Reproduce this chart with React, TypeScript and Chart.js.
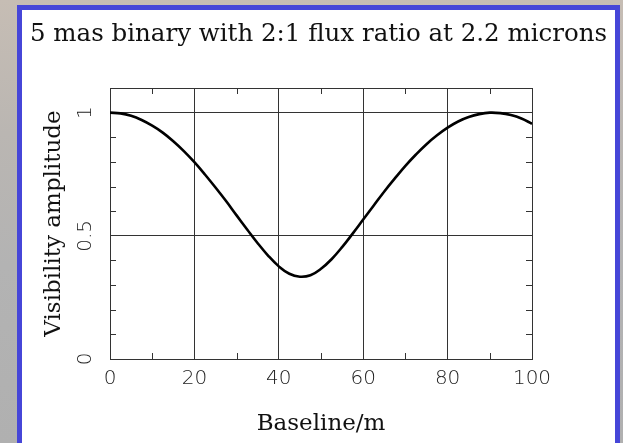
import React, { useEffect, useRef } from "react";
import { Chart, registerables } from "chart.js";

Chart.register(...registerables);

const chartTitle = "5 mas binary with 2:1 flux ratio at 2.2 microns";
const xAxisTitle = "Baseline/m";
const yAxisTitle = "Visibility amplitude";

const baseline = [
  0, 2.5, 5, 7.5, 10, 12.5, 15, 17.5, 20, 22.5, 25, 27.5, 30, 32.5, 35, 37.5, 40,
  42.5, 45, 47.5, 50, 52.5, 55, 57.5, 60, 62.5, 65, 67.5, 70, 72.5, 75, 77.5, 80,
  82.5, 85, 87.5, 90, 92.5, 95, 97.5, 100,
];
const visibility = [
  1.0, 0.997, 0.987, 0.970, 0.947, 0.919, 0.884, 0.844, 0.799, 0.749, 0.696,
  0.641, 0.583, 0.526, 0.470, 0.419, 0.376, 0.346, 0.334, 0.340, 0.366, 0.405,
  0.454, 0.509, 0.566, 0.623, 0.680, 0.733, 0.784, 0.830, 0.872, 0.908, 0.939,
  0.964, 0.982, 0.994, 1.0, 0.998, 0.990, 0.976, 0.955,
];

const xTickValues = [0, 20, 40, 60, 80, 100];
const xTickLabels = ["0", "20", "40", "60", "80", "100"];
const xGridValues = [20, 40, 60, 80];
const xMinorTicks = [10, 30, 50, 70, 90];

const yTickValues = [0, 0.5, 1];
const yTickLabels = ["0", "0.5", "1"];
const yGridValues = [0.5, 1];
const yMinorTicks = [0.1, 0.2, 0.3, 0.4, 0.6, 0.7, 0.8, 0.9];

const near = (a: number, b: number) => Math.abs(a - b) < 1e-6;
const FRAME = "#333";

const minorTicksPlugin = {
  id: "minorTicks",
  afterDatasetsDraw(chart: any) {
    const { ctx, chartArea } = chart;
    const { left, right, top, bottom } = chartArea;
    const xs = chart.scales.x;
    const ys = chart.scales.y;
    const len = 6;
    ctx.save();
    ctx.strokeStyle = FRAME;
    ctx.lineWidth = 1;
    ctx.beginPath();
    xMinorTicks.forEach((v) => {
      const px = Math.round(xs.getPixelForValue(v)) + 0.5;
      ctx.moveTo(px, bottom);
      ctx.lineTo(px, bottom - len);
      ctx.moveTo(px, top);
      ctx.lineTo(px, top + len);
    });
    yMinorTicks.forEach((v) => {
      const py = Math.round(ys.getPixelForValue(v)) + 0.5;
      ctx.moveTo(left, py);
      ctx.lineTo(left + len, py);
      ctx.moveTo(right, py);
      ctx.lineTo(right - len, py);
    });
    ctx.stroke();
    ctx.restore();
  },
};

export default function App() {
  const canvasRef = useRef<HTMLCanvasElement | null>(null);

  useEffect(() => {
    const canvas = canvasRef.current;
    if (!canvas) return;
    const tickFont = { family: "'DejaVu Sans', sans-serif", size: 20, weight: 300 as any };
    const serif = "'DejaVu Serif', serif";
    const chart = new Chart(canvas, {
      type: "line",
      data: {
        datasets: [
          {
            data: baseline.map((b, i) => ({ x: b, y: visibility[i] })),
            borderColor: "#000",
            borderWidth: 2.6,
            pointRadius: 0,
            tension: 0.4,
            fill: false,
            xAxisID: "x",
            yAxisID: "y",
          },
        ],
      },
      options: {
        responsive: false,
        animation: false,
        devicePixelRatio: 1,
        layout: { padding: { left: 14, right: 0, top: 0, bottom: 0 } },
        plugins: {
          legend: { display: false },
          tooltip: { enabled: false },
          title: {
            display: true,
            text: chartTitle,
            color: "#111",
            font: { family: serif, size: 24.5, weight: "normal" },
            padding: { top: 20, bottom: 38.6 },
          },
        },
        scales: {
          x: {
            type: "linear",
            position: "bottom",
            min: 0,
            max: 100,
            afterFit: (s: any) => {
              s.height = 84;
            },
            afterBuildTicks: (s: any) => {
              s.ticks = xTickValues.concat(xGridValues).filter((v, i, a) => a.indexOf(v) === i).map((v) => ({ value: v }));
            },
            ticks: {
              autoSkip: false,
              maxRotation: 0,
              padding: 8,
              color: "#222",
              font: tickFont,
              callback: (v: any) => {
                const i = xTickValues.findIndex((t) => near(t, Number(v)));
                return i >= 0 ? xTickLabels[i] : "";
              },
            },
            grid: {
              drawTicks: false,
              lineWidth: 1,
              color: (c: any) =>
                c.tick && xGridValues.some((g) => near(g, c.tick.value)) ? FRAME : "rgba(0,0,0,0)",
            },
            border: { display: true, color: FRAME, width: 1 },
            title: {
              display: true,
              text: xAxisTitle,
              color: "#111",
              font: { family: serif, size: 23, weight: "normal" },
              padding: { top: 0, bottom: 5 },
            },
          },
          x2: {
            type: "linear",
            position: "top",
            min: 0,
            max: 100,
            afterFit: (s: any) => {
              s.height = 0;
            },
            ticks: { display: false },
            grid: { display: false, drawTicks: false },
            border: { display: true, color: FRAME, width: 1 },
          },
          y: {
            type: "linear",
            position: "left",
            min: 0,
            max: 1.1,
            afterFit: (s: any) => {
              s.width = 96;
            },
            afterBuildTicks: (s: any) => {
              s.ticks = yTickValues.concat(yGridValues).filter((v, i, a) => a.indexOf(v) === i).map((v) => ({ value: v }));
            },
            ticks: {
              autoSkip: false,
              minRotation: 90,
              maxRotation: 90,
              crossAlign: "center",
              padding: 8,
              color: "#222",
              font: tickFont,
              callback: (v: any) => {
                const i = yTickValues.findIndex((t) => near(t, Number(v)));
                return i >= 0 ? yTickLabels[i] : "";
              },
            },
            grid: {
              drawTicks: false,
              lineWidth: 1,
              color: (c: any) =>
                c.tick && yGridValues.some((g) => near(g, c.tick.value)) ? FRAME : "rgba(0,0,0,0)",
            },
            border: { display: true, color: FRAME, width: 1 },
            title: {
              display: true,
              text: yAxisTitle,
              color: "#111",
              font: { family: serif, size: 23, weight: "normal" },
              padding: { top: 26, bottom: 0 },
            },
          },
          y2: {
            type: "linear",
            position: "right",
            min: 0,
            max: 1.1,
            afterFit: (s: any) => {
              s.width = 91;
            },
            ticks: { display: false },
            grid: { display: false, drawTicks: false },
            border: { display: true, color: FRAME, width: 1 },
          },
        },
      },
      plugins: [minorTicksPlugin],
    } as any);
    return () => chart.destroy();
  }, []);

  return (
    <div
      style={{
        position: "fixed",
        left: 0,
        top: 0,
        width: 623,
        height: 443,
        overflow: "hidden",
        background: "linear-gradient(180deg, #c6bdb4 0%, #bab6b2 30%, #b3b3b3 60%, #b0b0b0 100%)",
      }}
    >
      <div
        style={{
          position: "absolute",
          left: 17,
          top: 5,
          width: 603,
          height: 470,
          boxSizing: "border-box",
          border: "5px solid #4646d8",
          background: "#ffffff",
        }}
      />
      <canvas
        ref={canvasRef}
        width={623}
        height={443}
        style={{ position: "absolute", left: 0, top: 0, width: 623, height: 443 }}
      />
    </div>
  );
}
